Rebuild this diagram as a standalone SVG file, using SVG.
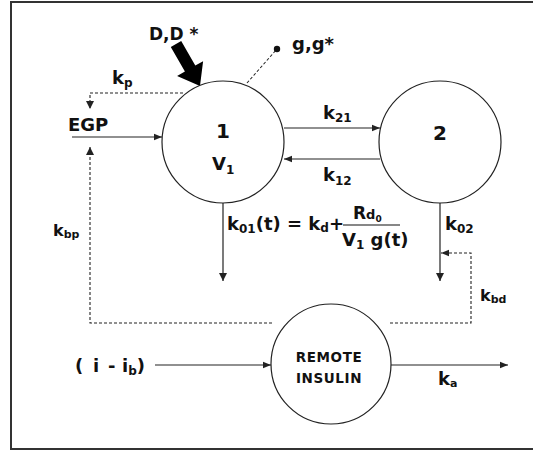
<svg xmlns="http://www.w3.org/2000/svg" width="533" height="452" viewBox="0 0 533 452">
<style>
text{font-family:"DejaVu Sans","Liberation Sans",sans-serif;fill:#111;font-weight:bold}
.t{font-size:18px}
.s{font-size:12px}
.node{fill:#fff;stroke:#222;stroke-width:1.2}
.ln{stroke:#222;stroke-width:1.2;fill:none}
.dash{stroke:#222;stroke-width:1.1;fill:none;stroke-dasharray:3,2}
</style>
<defs>
<marker id="ah" viewBox="0 0 10 10" refX="10" refY="5" markerWidth="10" markerHeight="8" markerUnits="userSpaceOnUse" orient="auto">
<path d="M0,1 L10,5 L0,9 z" fill="#222"/>
</marker>
<marker id="ahv" viewBox="0 0 10 10" refX="10" refY="5" markerWidth="12" markerHeight="8" markerUnits="userSpaceOnUse" orient="auto">
<path d="M0,0 L10,5 L0,10 z" fill="#222"/>
</marker>
</defs>
<rect width="533" height="452" fill="#fff"/>
<path d="M533,2 H11 V449 H533" fill="none" stroke="#333" stroke-width="2"/>

<g id="connectors">
<line class="ln" x1="284" y1="128" x2="380" y2="128" marker-end="url(#ah)"/>
<line class="ln" x1="380" y1="159" x2="284" y2="159" marker-end="url(#ah)"/>
<line class="ln" x1="72" y1="137" x2="162" y2="137" marker-end="url(#ah)"/>
<line class="ln" x1="223" y1="203" x2="223" y2="281" marker-end="url(#ahv)"/>
<line class="ln" x1="440" y1="203" x2="440" y2="281" marker-end="url(#ahv)"/>
<line class="ln" x1="155" y1="365" x2="271" y2="365" marker-end="url(#ah)"/>
<line class="ln" x1="391" y1="365" x2="508" y2="365" marker-end="url(#ah)"/>
<path class="dash" d="M183,93 H90 V109" marker-end="url(#ahv)"/>
<path class="dash" d="M272,323 H90 V147" marker-end="url(#ahv)"/>
<path class="dash" d="M390,323 H471 V253 H441" marker-end="url(#ah)"/>
<line class="dash" x1="247" y1="83" x2="277" y2="49" stroke-dasharray="4,3"/>
<circle cx="277" cy="49" r="3.2" fill="#111"/>
<polygon points="181.2,41 195.3,65.6 203.1,61.2 200,86 177.1,76 184.9,71.6 170.8,47" fill="#000"/>
</g>

<g id="node1">
<circle class="node" cx="223" cy="142" r="61"/>
<text x="223" y="138" text-anchor="middle" font-size="20">1</text>
<text class="t" x="212" y="170">V<tspan class="s" dy="4">1</tspan></text>
</g>
<g id="node2">
<circle class="node" cx="440" cy="142" r="61"/>
<text x="440" y="140" text-anchor="middle" font-size="20">2</text>
</g>
<g id="remote">
<circle class="node" cx="331" cy="364" r="60"/>
<text x="329" y="362" text-anchor="middle" font-size="13.5" letter-spacing="0.6">REMOTE</text>
<text x="329" y="383" text-anchor="middle" font-size="13.5" letter-spacing="0.6">INSULIN</text>
</g>

<g id="labels">
<text x="149" y="40" font-size="17">D,D *</text>
<text class="t" x="292" y="50">g,g*</text>
<text class="t" x="68" y="131">EGP</text>
<text class="t" x="112" y="84">k<tspan class="s" dy="3">p</tspan></text>
<text class="t" x="323" y="119">k<tspan class="s" dy="3">21</tspan></text>
<text class="t" x="323" y="181">k<tspan class="s" dy="4">12</tspan></text>
<text x="53" y="236" font-size="16">k<tspan font-size="11" dy="2">bp</tspan></text>
<text class="t" x="445" y="230">k<tspan class="s" dy="3">02</tspan></text>
<text x="480" y="301" font-size="16">k<tspan font-size="11" dy="2">bd</tspan></text>
<text class="t" x="438" y="385">k<tspan font-size="11" dy="2">a</tspan></text>
<text class="t" x="227" y="230">k<tspan class="s" dy="3">01</tspan><tspan dy="-3">(t) = k</tspan><tspan class="s" dy="2">d</tspan><tspan dy="-2">+</tspan></text>
<line x1="343" y1="225" x2="400" y2="225" stroke="#111" stroke-width="1.2"/>
<text x="353" y="219" font-size="17">R<tspan font-size="13">d</tspan><tspan font-size="9" dy="3">0</tspan></text>
<text class="t" x="342" y="246">V<tspan class="s" dy="3">1</tspan><tspan dy="-3"> g(t)</tspan></text>
<text class="t" x="75" y="372">(<tspan x="93">i</tspan><tspan x="108">-</tspan><tspan x="122">i</tspan><tspan class="s" dy="3">b</tspan><tspan dy="-3">)</tspan></text>
</g>
</svg>
